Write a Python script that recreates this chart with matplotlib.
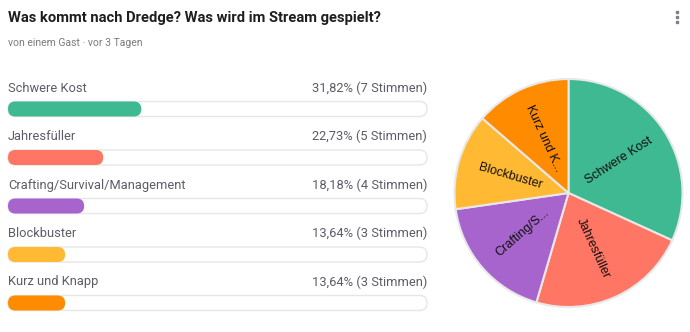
import numpy as np
import matplotlib
matplotlib.use("Agg")
import matplotlib.pyplot as plt
from matplotlib.patches import FancyBboxPatch

options = ["Schwere Kost", "Jahresfüller", "Crafting/Survival/Management", "Blockbuster", "Kurz und Knapp"]
pie_labels = ["Schwere Kost", "Jahresfüller", "Crafting/S...", "Blockbuster", "Kurz und K..."]
votes = [7, 5, 4, 3, 3]
percents = [31.82, 22.73, 18.18, 13.64, 13.64]
colors = ["#3fb991", "#ff7664", "#a864cd", "#ffb933", "#ff8c00"]

title = "Was kommt nach Dredge? Was wird im Stream gespielt?"
subtitle = "von einem Gast · vor 3 Tagen"

W, H = 690, 332
fig = plt.figure(figsize=(W / 100, H / 100), dpi=100)
fig.patch.set_facecolor("white")

# full-figure axes in pixel units
ax = fig.add_axes([0, 0, 1, 1])
ax.set_xlim(0, W)
ax.set_ylim(H, 0)
ax.axis("off")

ui_font = ["Roboto", "DejaVu Sans"]

ax.text(8, 18, title, fontsize=10.6, fontweight="bold", color="#1e1e1e",
        va="center", ha="left", family=ui_font)
ax.text(8, 43, subtitle, fontsize=7.5, color="#7a7a7a", va="center", ha="left", family=ui_font)
# menu dots
for y in (12, 17, 22):
    ax.plot(677, y, "s", ms=1.6, color="#7a7f8a")

x0, x1 = 8, 427
track_w = x1 - x0
bar_h = 15
row_gap = 48.5
for i, (name, pct, n, c) in enumerate(zip(options, percents, votes, colors)):
    ly = 88 + i * row_gap
    by = 109 + i * row_gap
    ax.text(x0, ly, name, fontsize=9.3, color="#5c5c68", va="center", ha="left", family=ui_font)
    ax.text(x1, ly, f"{pct:.2f}".replace(".", ",") + f"% ({n} Stimmen)", fontsize=9.3,
            color="#5c5c68", va="center", ha="right", family=ui_font)
    track = FancyBboxPatch((x0, by - bar_h / 2), track_w, bar_h,
                           boxstyle=f"round,pad=0,rounding_size={bar_h / 2}",
                           fc="white", ec="#e6e6e6", lw=1)
    ax.add_patch(track)
    fill = FancyBboxPatch((x0, by - bar_h / 2), track_w * pct / 100, bar_h,
                          boxstyle=f"round,pad=0,rounding_size={bar_h / 2}",
                          fc=c, ec="none")
    ax.add_patch(fill)

# pie
cx, cy, r = 568.5, 193, 114
pad = 1.03
pax = fig.add_axes([(cx - r * pad) / W, (H - cy - r * pad) / H, 2 * r * pad / W, 2 * r * pad / H])
wedges, _ = pax.pie(votes, colors=colors, startangle=90, counterclock=False,
                    wedgeprops=dict(edgecolor="#e8e8e8", linewidth=1.5))
pax.set_xlim(-pad, pad)
pax.set_ylim(-pad, pad)
pax.set_aspect("equal")
pax.axis("off")

for w, lab in zip(wedges, pie_labels):
    mid = (w.theta1 + w.theta2) / 2
    rad = np.deg2rad(mid)
    rot = (mid + 180) % 360 - 180
    if rot > 90:
        rot -= 180
    elif rot < -90:
        rot += 180
    pax.text(0.53 * np.cos(rad), 0.53 * np.sin(rad), lab, rotation=rot,
             rotation_mode="anchor", ha="center", va="center",
             fontsize=9, color="#111111", family=["Liberation Sans", "DejaVu Sans"])

fig.savefig("out.png", dpi=100)
